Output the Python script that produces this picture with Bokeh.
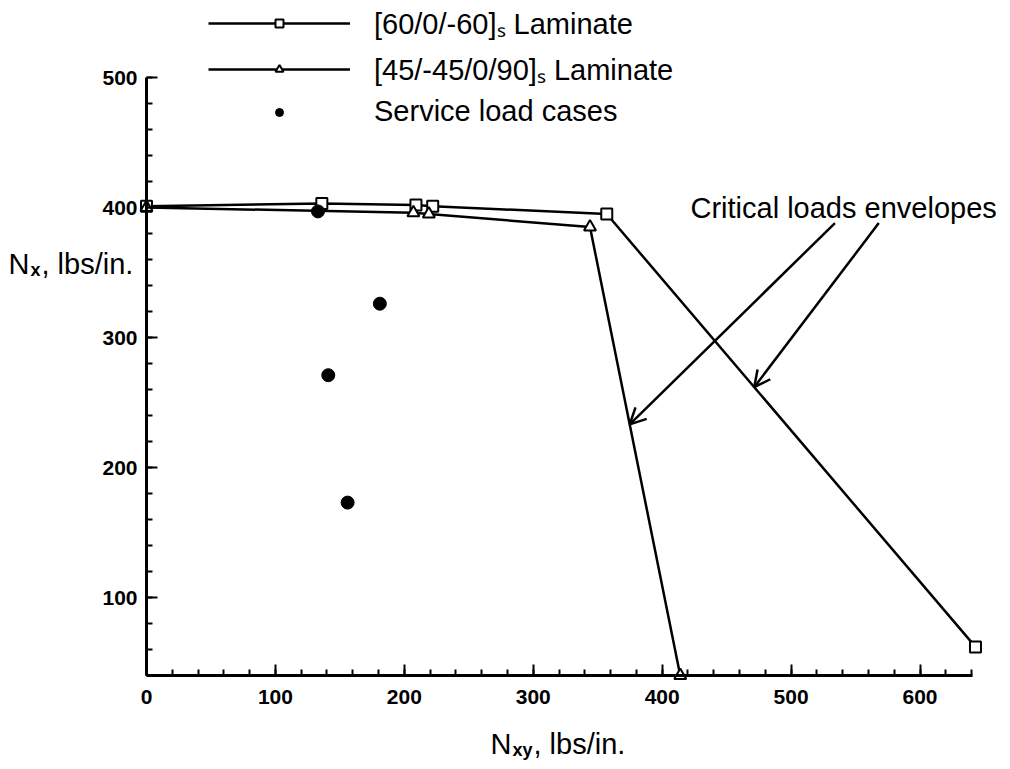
from bokeh.plotting import figure
from bokeh.models import (Range1d, FixedTicker, Label, Arrow, OpenHead, Legend,
                          LegendItem, ColumnDataSource)
from bokeh.core.properties import value
from bokeh.embed import file_html
from bokeh.resources import INLINE

# ---------------- data ----------------
lam1_x = [0, 136, 209, 222, 357, 643]          # [60/0/-60]s laminate envelope
lam1_y = [401, 403, 402, 401, 395, 62]
lam2_x = [0, 207, 219, 344, 414]               # [45/-45/0/90]s laminate envelope
lam2_y = [400, 396, 395, 385, 40]
svc_x = [133, 181, 141, 156]                   # service load cases
svc_y = [397, 326, 271, 173]

x_ticks = [0, 100, 200, 300, 400, 500, 600]
y_ticks = [100, 200, 300, 400, 500]
x_minor = list(range(0, 641, 20))
y_minor = list(range(40, 501, 20))

series_labels = ["[60/0/-60]\u209b Laminate", "[45/-45/0/90]\u209b Laminate", "Service load cases"]
note_text = "Critical loads envelopes"
arrow_frac = [0.44, 0.40]          # where each arrow touches the last segment of each envelope
arrow_tail_x = [534, 568]
arrow_tail_y = [388, 388]

# ---------------- layout ----------------
W, H = 1010, 769
# pixel positions of the axes corner (x=0, y=40) and of x=650 / y=500
AX_L, AX_R, AX_T, AX_B = 146, 984, 77, 675
XA, XB, YA, YB = 0, 650, 40, 500
FONT = "Liberation Sans"

kx = (XB - XA) / (AX_R - AX_L)
ky = (YB - YA) / (AX_B - AX_T)


def dx(px):
    return XA + (px - AX_L) * kx


def dy(py):
    return YA + (AX_B - py) * ky


p = figure(width=W, height=H, output_backend="svg", toolbar_location=None,
           x_range=Range1d(dx(0), dx(W)), y_range=Range1d(dy(H), dy(0)),
           min_border=0, min_border_left=0, min_border_right=0,
           min_border_top=0, min_border_bottom=0)
p.outline_line_color = None
p.grid.visible = False
p.background_fill_color = "white"
p.border_fill_color = "white"

for ax in (p.xaxis[0], p.yaxis[0]):
    ax.axis_line_width = 3
    ax.axis_line_color = "black"
    ax.major_tick_in = 11
    ax.major_tick_out = 0
    ax.minor_tick_in = 6
    ax.minor_tick_out = 0
    ax.major_tick_line_width = 2
    ax.minor_tick_line_width = 2
    ax.major_tick_line_color = "black"
    ax.minor_tick_line_color = "black"
    ax.major_label_text_font = FONT
    ax.major_label_text_font_style = "bold"
    ax.major_label_text_font_size = "21px"
    ax.major_label_text_color = "black"

p.xaxis.ticker = FixedTicker(ticks=x_ticks, minor_ticks=x_minor)
p.yaxis.ticker = FixedTicker(ticks=y_ticks, minor_ticks=y_minor)
p.xaxis.bounds = (0, 641)
p.yaxis.bounds = (40, 500)
p.xaxis.fixed_location = 40
p.yaxis.fixed_location = 0
p.xaxis.major_label_standoff = 14
p.yaxis.major_label_standoff = 9

# ---------------- glyphs ----------------
s1 = ColumnDataSource(dict(x=lam1_x, y=lam1_y))
s2 = ColumnDataSource(dict(x=lam2_x, y=lam2_y))
s3 = ColumnDataSource(dict(x=svc_x, y=svc_y))

l1 = p.line("x", "y", source=s1, line_color="black", line_width=2.5)
m1 = p.scatter("x", "y", source=s1, marker="square", size=11, fill_color="white",
               line_color="black", line_width=2)
l2 = p.line("x", "y", source=s2, line_color="black", line_width=2.5)
m2 = p.scatter("x", "y", source=s2, marker="triangle", size=12, fill_color="white",
               line_color="black", line_width=2)
m3 = p.scatter("x", "y", source=s3, marker="circle", size=13, fill_color="black",
               line_color="black")

# ---------------- legend ----------------
legend = Legend(items=[LegendItem(label=value(series_labels[0]), renderers=[l1, m1]),
                       LegendItem(label=value(series_labels[1]), renderers=[l2, m2]),
                       LegendItem(label=value(series_labels[2]), renderers=[m3])],
                location=(208, H - 128),
                glyph_width=142, glyph_height=20, label_height=29, spacing=7,
                label_standoff=24, padding=0, margin=0,
                border_line_color=None, background_fill_alpha=0,
                label_text_font=FONT, label_text_font_size="29px",
                label_text_color="black")
p.add_layout(legend, "center")

# ---------------- arrows to envelopes ----------------
tips = []
for (xs, ys), f in zip([(lam2_x, lam2_y), (lam1_x, lam1_y)], arrow_frac):
    xa, ya, xb, yb = xs[-2], ys[-2], xs[-1], ys[-1]
    tips.append((xa + f * (xb - xa), ya + f * (yb - ya)))
for (tx, ty), sx, sy in zip(tips, arrow_tail_x, arrow_tail_y):
    p.add_layout(Arrow(end=OpenHead(size=16, line_width=2.5, line_color="black"),
                       x_start=sx, y_start=sy, x_end=tx, y_end=ty,
                       line_width=2.5, line_color="black"))

p.add_layout(Label(x=dx(690), y=dy(207), text=note_text, text_font=FONT,
                   text_font_size="29px", text_baseline="alphabetic", text_color="black"))

# ---------------- axis titles with subscripts ----------------
def title(parts, left, base):
    big, sub, rest = parts
    p.add_layout(Label(x=dx(left), y=dy(base), text=big, text_font=FONT,
                       text_font_size="29px", text_baseline="alphabetic",
                       text_color="black"))
    p.add_layout(Label(x=dx(left + 22), y=dy(base + 6), text=sub, text_font=FONT,
                       text_font_size="18px", text_font_style="bold",
                       text_baseline="alphabetic", text_color="black"))
    p.add_layout(Label(x=dx(left + 23 + 10 * len(sub)), y=dy(base), text=rest,
                       text_font=FONT, text_font_size="29px",
                       text_baseline="alphabetic", text_color="black"))


title(("N", "x", ", lbs/in."), 8, 263)
title(("N", "xy", ", lbs/in."), 490, 743)

open("out.html", "w").write(file_html(p, INLINE))
